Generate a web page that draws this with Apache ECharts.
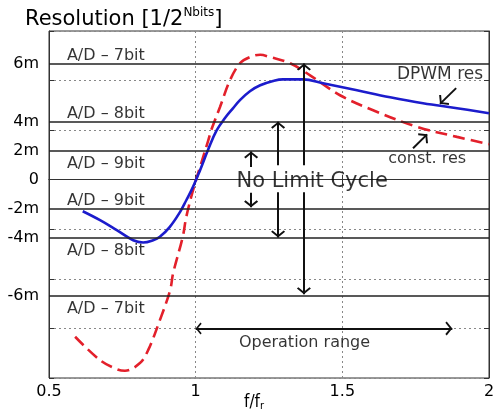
<!DOCTYPE html>
<html><head><meta charset="utf-8">
<script src="https://cdn.jsdelivr.net/npm/echarts@6/dist/echarts.min.js"></script>
<style>html,body{margin:0;padding:0;background:#fff}#c{width:497px;height:415px}</style>
</head><body><div id="c"></div>
<script>
// ---- data ----
const dpwmX = [0.615,0.674,0.731,0.787,0.821,0.855,0.878,0.912,0.947,0.968,0.991,1.015,1.043,1.071,1.100,1.127,1.151,1.185,1.220,1.264,1.298,1.366,1.434,1.550,1.663,1.775,1.891,2.0];
const dpwmY = [-2.12,-2.72,-3.39,-4.07,-4.22,-4.07,-3.84,-3.17,-2.16,-1.38,-0.48,0.64,2.05,3.30,4.15,4.80,5.35,5.95,6.35,6.64,6.75,6.75,6.49,6.01,5.54,5.14,4.81,4.47];
const constX = [0.589,0.674,0.731,0.759,0.810,0.838,0.878,0.913,0.923,0.956,0.968,0.991,1.015,1.043,1.055,1.083,1.117,1.151,1.185,1.220,1.253,1.322,1.390,1.492,1.605,1.755,1.891,2.0];
const constY = [-10.56,-12.13,-12.74,-12.85,-12.33,-11.46,-9.44,-7.43,-6.3,-3.84,-2.50,-0.71,0.86,2.65,3.44,4.89,6.69,7.83,8.25,8.4,8.25,7.83,7.02,5.68,4.67,3.55,2.88,2.39];
const adLevels = [7.8125, 3.90625, 1.953125, -1.953125, -3.90625, -7.8125];
const adBits = ['7bit','8bit','9bit','9bit','8bit','7bit'];
const adSide = ['above','above','below','above','below','below'];
const yTickValues = [7.8125, 3.90625, 1.953125, 0, -1.953125, -3.90625, -7.8125];
const yTickLabels = ['6m','4m','2m','0','-2m','-4m','-6m'];
const xTickValues = [0.5, 1, 1.5, 2];
const xTickLabels = ['0.5','1','1.5','2'];
const adLabelX = 0.561;
// annotation arrows in data coords
const arrowsEnd = [
  [[1.888, 6.16], [1.833, 5.10]],
  [[1.741, 2.12], [1.789, 3.05]],
  [[1.189, 0.85], [1.189, 1.90]],
  [[1.189, -0.88], [1.189, -1.85]],
  [[1.281, 0.97], [1.281, 3.90]],
  [[1.281, -0.84], [1.281, -3.88]],
  [[1.369, 0.97], [1.369, 7.81]],
  [[1.369, -0.84], [1.369, -7.70]]
];
const arrowsBoth = [
  [[1.0, -10.0], [1.875, -10.0]]
];
const noteTexts = ['No Limit Cycle', 'DPWM res', 'const. res', 'Operation range'];
const noteX = [1.397, 1.833, 1.789, 1.371];
const noteY = [-0.15, 7.05, 1.40, -11.0];
const noteFont = [21, 17, 16, 16];

// ---- chart ----
const FONT = 'DejaVu Sans';
const INK = '#000';
const chev = 'path://M6,7L12,12.6L10.8,14L6,9.4L1.2,14L0,12.6Z M6,0L6,0.01';
const chart = echarts.init(document.getElementById('c'), null, {renderer: 'canvas'});
const nearestLabel = (vals, labs, v) => {
  let bi = 0, bd = Infinity;
  vals.forEach((t, i) => { const d = Math.abs(t - v); if (d < bd) { bd = d; bi = i; } });
  return bd < 1e-6 ? labs[bi] : '';
};
const pairs = (xs, ys) => xs.map((x, i) => [x, ys[i]]);

chart.setOption({
  animation: false,
  backgroundColor: '#fff',
  title: {
    text: '{a|Resolution [1/2}{s|Nbits}{a|]}',
    left: 25, top: 7, padding: 0,
    textStyle: {
      fontWeight: 'normal',
      rich: {
        a: {fontFamily: FONT, fontSize: 21, fontWeight: 'normal', color: INK, lineHeight: 25},
        s: {fontFamily: FONT, fontSize: 12, fontWeight: 'normal', color: INK, verticalAlign: 'top', lineHeight: 12, padding: [0, 0, 10, 0]}
      }
    }
  },
  grid: {left: 49, right: 8, top: 31, bottom: 37, show: true, borderColor: '#333', borderWidth: 1,
    containLabel: false, outerBoundsMode: 'none'},
  xAxis: [{
    type: 'value', min: 0.5, max: 2, interval: 0.5,
    name: '{a|f/f}{b|r}', nameLocation: 'middle', nameGap: 15, nameMoveOverlap: false,
    nameTextStyle: {padding: [0, 30, 0, 0], rich: {
      a: {fontFamily: 'DejaVu Sans Condensed', fontSize: 17, color: INK},
      b: {fontFamily: 'DejaVu Sans Condensed', fontSize: 11, color: INK, verticalAlign: 'bottom', padding: [8, 0, 0, 0]}
    }},
    axisLine: {show: true, lineStyle: {color: '#333', width: 1}},
    axisTick: {show: true, inside: true, length: 5, lineStyle: {color: '#333'}},
    axisLabel: {fontFamily: FONT, fontSize: 16, color: INK, margin: 6,
      formatter: v => nearestLabel(xTickValues, xTickLabels, v)},
    splitLine: {show: true, lineStyle: {type: [2, 3], color: '#888', width: 1}}
  }, {
    type: 'value', min: 0.5, max: 2, interval: 0.5, position: 'top',
    axisLine: {show: true, lineStyle: {color: '#333'}},
    axisTick: {show: true, inside: true, length: 5, lineStyle: {color: '#333'}},
    axisLabel: {show: false}, splitLine: {show: false}
  }],
  yAxis: [{
    type: 'value', min: -40/3, max: 10, interval: 10/3,
    axisLine: {show: true, lineStyle: {color: '#333', width: 1}},
    axisTick: {show: true, inside: true, length: 5, lineStyle: {color: '#333'}},
    axisLabel: {fontFamily: FONT, fontSize: 16, color: INK, margin: 10,
      customValues: yTickValues,
      formatter: v => nearestLabel(yTickValues, yTickLabels, v)},
    splitLine: {show: true, lineStyle: {type: [2, 3], color: '#888', width: 1}}
  }, {
    type: 'value', min: -40/3, max: 10, interval: 10/3, position: 'right',
    axisLine: {show: true, lineStyle: {color: '#333'}},
    axisTick: {show: true, inside: true, length: 5, lineStyle: {color: '#333'}},
    axisLabel: {show: false}, splitLine: {show: false}
  }],
  series: [
    {
      type: 'scatter', name: 'adlabels', z: 2, clip: false, silent: true,
      symbolSize: 0,
      data: adLevels.map((v, i) => ({
        value: [adLabelX, v], name: 'A/D \u2013 ' + adBits[i],
        label: {offset: [0, adSide[i] === 'above' ? -8 : 13]}
      })),
      label: {show: true, position: 'inside', align: 'left', verticalAlign: 'middle',
        formatter: p => p.name, fontFamily: FONT, fontSize: 16, color: INK},
      markLine: {
        silent: true, symbol: 'none', animation: false,
        lineStyle: {color: '#222', width: 1.6, type: 'solid'},
        label: {show: false},
        data: adLevels.map(v => ({yAxis: v}))
      }
    },
    {
      type: 'line', name: 'const. res', z: 3, smooth: 0.35, showSymbol: false, symbol: 'none',
      lineStyle: {color: '#e3202b', width: 2.6, type: [12, 6]},
      data: pairs(constX, constY)
    },
    {
      type: 'line', name: 'DPWM res', z: 4, smooth: 0.4, showSymbol: false, symbol: 'none',
      lineStyle: {color: '#1c1ccc', width: 2.6},
      data: pairs(dpwmX, dpwmY)
    },
    {
      type: 'lines', coordinateSystem: 'cartesian2d', z: 5, silent: true,
      symbol: ['none', chev], symbolSize: [12, 14],
      lineStyle: {color: '#111', width: 2, opacity: 1},
      data: arrowsEnd.map(c => ({coords: c}))
    },
    {
      type: 'lines', coordinateSystem: 'cartesian2d', z: 5, silent: true,
      symbol: [chev, chev], symbolSize: [12, 14],
      lineStyle: {color: '#111', width: 2, opacity: 1},
      data: arrowsBoth.map(c => ({coords: c}))
    },
    {
      type: 'scatter', name: 'notes', z: 6, clip: false, silent: true, symbolSize: 0,
      data: noteTexts.map((t, i) => ({
        value: [noteX[i], noteY[i]], name: t,
        label: {fontSize: noteFont[i]}
      })),
      label: {show: true, position: 'inside', align: 'center', verticalAlign: 'middle',
        formatter: p => p.name, fontFamily: FONT, color: INK}
    }
  ]
});
</script></body></html>
